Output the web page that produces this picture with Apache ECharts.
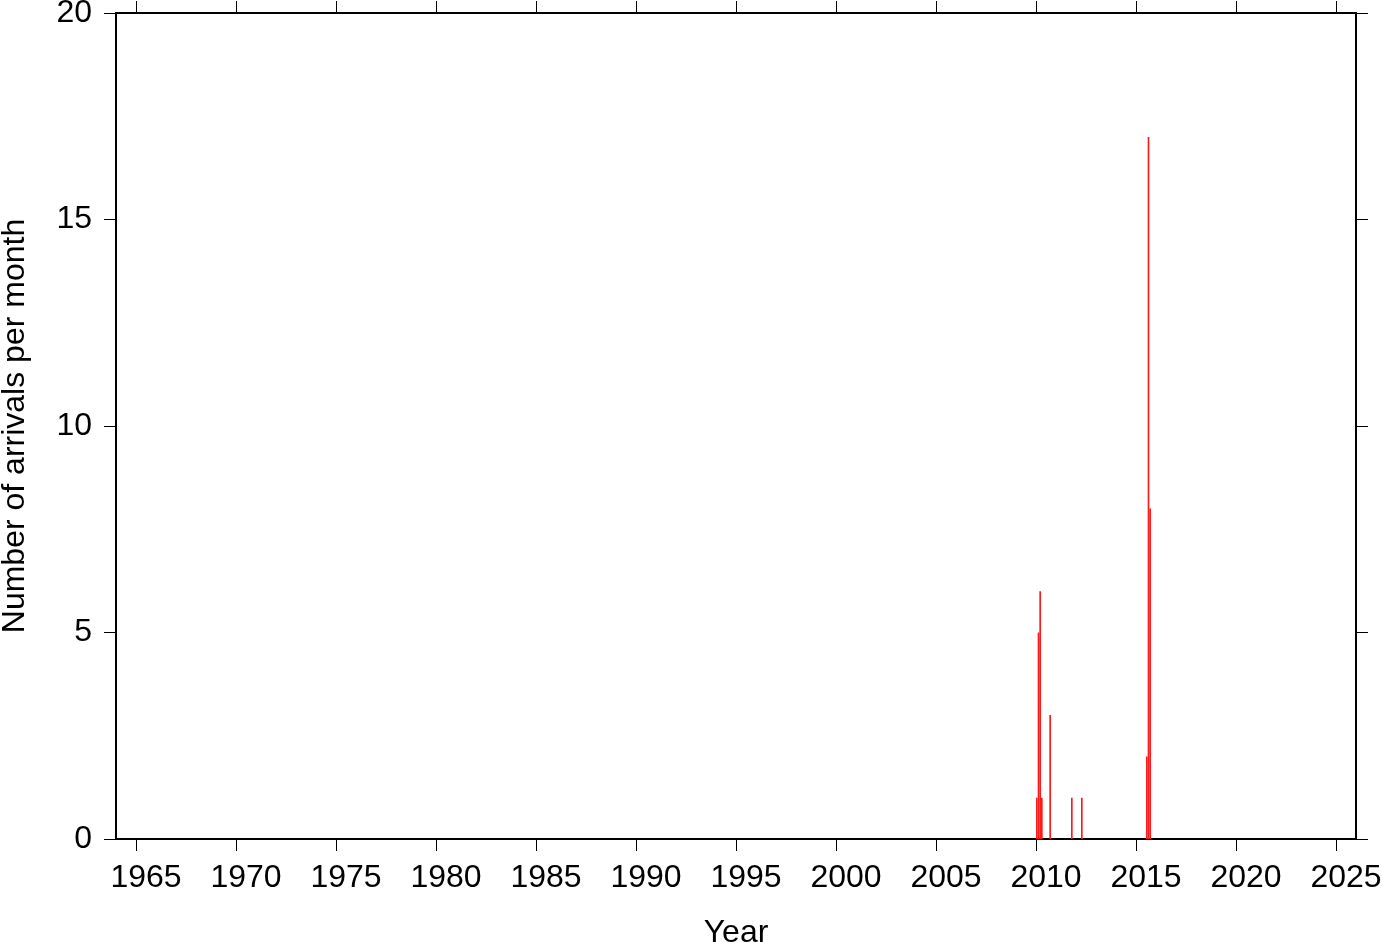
<!DOCTYPE html>
<html>
<head>
<meta charset="utf-8">
<script src="https://cdn.jsdelivr.net/npm/echarts@6/dist/echarts.min.js"></script>
<style>
html,body{margin:0;padding:0;background:#fff;}
#chart{width:1382px;height:942px;}
</style>
</head>
<body>
<div id="chart"></div>
<script>
// Data (month, arrivals)
const months = ['2010-01','2010-02','2010-03','2010-04','2010-09','2011-10','2012-04','2015-07','2015-08','2015-09'];
const counts = [1, 5, 6, 1, 3, 1, 1, 2, 17, 8];
const yearTicks = [1965,1970,1975,1980,1985,1990,1995,2000,2005,2010,2015,2020,2025];
const yTicks = [0,5,10,15,20];

const FONT = 'Liberation Sans, Arial, Helvetica, sans-serif';
const data = months.map((m, i) => {
  const [y, mo] = m.split('-').map(Number);
  return [y + (mo - 1) / 12, counts[i]];
});

const chart = echarts.init(document.getElementById('chart'), null, {renderer: 'canvas'});
const axisLine = {show: true, onZero: false, lineStyle: {color: '#000', width: 2}};
const tick = {show: true, length: 12, lineStyle: {color: '#000', width: 1}};
const xBase = {type: 'value', min: 1964, max: 2026, splitLine: {show: false}, axisLine: axisLine};
const yBase = {type: 'value', min: 0, max: 20, interval: 5, splitLine: {show: false}, axisLine: axisLine};

chart.setOption({
  animation: false,
  backgroundColor: '#fff',
  grid: {left: 116, right: 26, top: 13, bottom: 103, containLabel: false, outerBoundsMode: 'none'},
  xAxis: [
    Object.assign({}, xBase, {
      position: 'bottom',
      name: 'Year', nameLocation: 'middle', nameGap: 78,
      nameTextStyle: {fontFamily: FONT, fontSize: 32, color: '#000'},
      axisTick: Object.assign({customValues: yearTicks}, tick),
      axisLabel: {customValues: yearTicks, fontFamily: FONT, fontSize: 32, color: '#000', margin: 23,
                  padding: [0, 0, 0, 20], formatter: v => String(v)}
    }),
    Object.assign({}, xBase, {
      position: 'top',
      axisTick: Object.assign({customValues: yearTicks}, tick),
      axisLabel: {show: false, customValues: yearTicks}
    })
  ],
  yAxis: [
    Object.assign({}, yBase, {
      position: 'left',
      name: 'Number of arrivals per month', nameLocation: 'middle', nameGap: 85,
      nameTextStyle: {fontFamily: FONT, fontSize: 32, color: '#000'},
      axisTick: tick,
      axisLabel: {fontFamily: FONT, fontSize: 32, color: '#000', margin: 24}
    }),
    Object.assign({}, yBase, {
      position: 'right',
      axisTick: tick,
      axisLabel: {show: false}
    })
  ],
  series: [{
    type: 'custom',
    xAxisIndex: 0, yAxisIndex: 0,
    data: data,
    renderItem: function (params, api) {
      const x0 = api.value(0), v = api.value(1);
      const p0 = api.coord([x0, v]);
      const p1 = api.coord([x0 + 1 / 12, 0]);
      return {
        type: 'rect',
        shape: {x: p0[0], y: p0[1], width: Math.max(p1[0] - p0[0], 1), height: p1[1] - p0[1]},
        style: {fill: '#ff1a1a'}
      };
    },
    z: 1
  }]
});
</script>
</body>
</html>
